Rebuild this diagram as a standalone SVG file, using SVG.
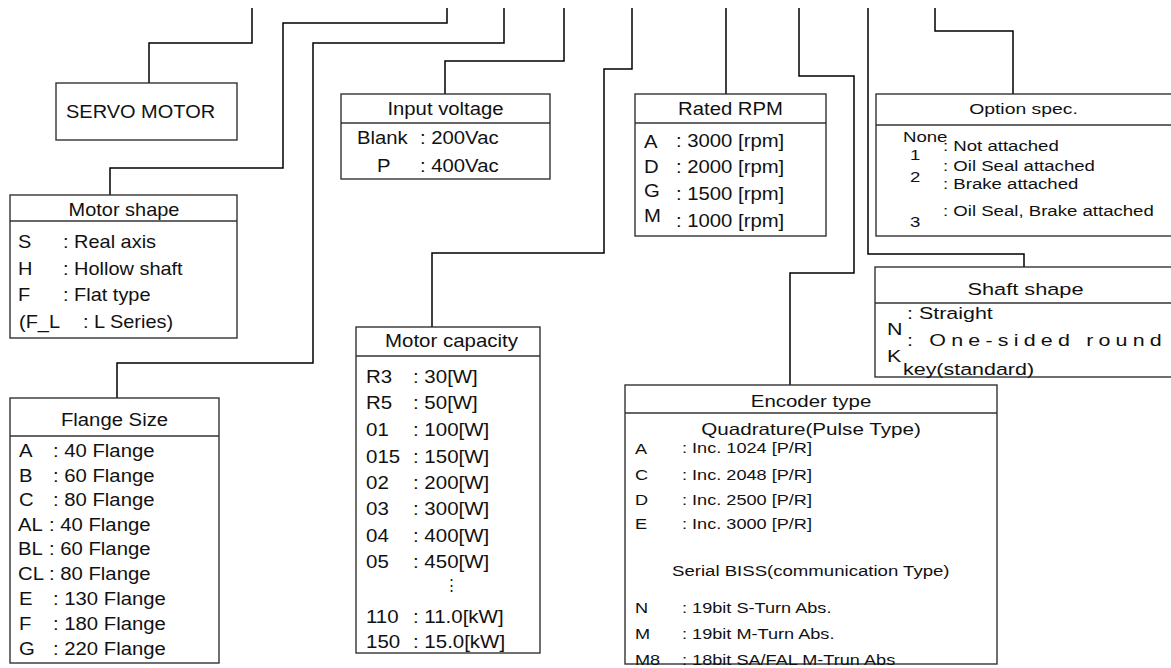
<svg xmlns="http://www.w3.org/2000/svg" width="1171" height="668" viewBox="0 0 1171 668">
<style>
.bx{fill:#fff;stroke:#333;stroke-width:1.4}
.hl{stroke:#333;stroke-width:1.4}
.cn{fill:none;stroke:#000;stroke-width:1.5}
text{font-family:"Liberation Sans",Arial,sans-serif;fill:#111}
.f18{font-size:18.5px}
.f17{font-size:17.5px}
.f16{font-size:16.5px}
.f15{font-size:15.5px}
.m{text-anchor:middle}
</style>
<rect width="1171" height="668" fill="#fff"/>
<g id="connectors">
<path class="cn" d="M252,8V43H149V83"/>
<path class="cn" d="M447,8V23H283V168H110V195"/>
<path class="cn" d="M504,8V43H313V363H117V398"/>
<path class="cn" d="M564,8V61H445V94"/>
<path class="cn" d="M632,8V69H604V253H432V327"/>
<path class="cn" d="M726,8V94"/>
<path class="cn" d="M799,8V76H854V273H790V385"/>
<path class="cn" d="M868,8V254H1024V267"/>
<path class="cn" d="M935,8V31H1013V94"/>
</g>
<g id="servo-motor">
<rect class="bx" x="56" y="83" width="181" height="57"/>
<text class="f18" transform="translate(66,118) scale(1.08,1)">SERVO MOTOR</text>
</g>
<g id="motor-shape">
<rect class="bx" x="10" y="195" width="227" height="143"/>
<line class="hl" x1="10" y1="221" x2="237" y2="221"/>
<text class="f17 m" transform="translate(124,216) scale(1.14,1)">Motor shape</text>
<text class="f17" transform="translate(18,248) scale(1.14,1)">S</text>
<text class="f17" transform="translate(63,248) scale(1.14,1)">: Real axis</text>
<text class="f17" transform="translate(18,274.5) scale(1.14,1)">H</text>
<text class="f17" transform="translate(63,274.5) scale(1.14,1)">: Hollow shaft</text>
<text class="f17" transform="translate(18,301) scale(1.14,1)">F</text>
<text class="f17" transform="translate(63,301) scale(1.14,1)">: Flat type</text>
<text class="f17" transform="translate(19,327.5) scale(1.14,1)">(F_L</text>
<text class="f17" transform="translate(83,327.5) scale(1.14,1)">: L Series)</text>
</g>
<g id="flange-size">
<rect class="bx" x="10" y="398" width="209" height="265"/>
<line class="hl" x1="10" y1="436" x2="219" y2="436"/>
<text class="f17 m" transform="translate(114.5,426) scale(1.16,1)">Flange Size</text>
<text class="f17" transform="translate(19,457) scale(1.16,1)">A</text>
<text class="f17" transform="translate(53,457) scale(1.16,1)">: 40 Flange</text>
<text class="f17" transform="translate(19,482) scale(1.16,1)">B</text>
<text class="f17" transform="translate(53,482) scale(1.16,1)">: 60 Flange</text>
<text class="f17" transform="translate(19,506) scale(1.16,1)">C</text>
<text class="f17" transform="translate(53,506) scale(1.16,1)">: 80 Flange</text>
<text class="f17" transform="translate(18,530.5) scale(1.16,1)">AL</text>
<text class="f17" transform="translate(49,530.5) scale(1.16,1)">: 40 Flange</text>
<text class="f17" transform="translate(18,555) scale(1.16,1)">BL</text>
<text class="f17" transform="translate(49,555) scale(1.16,1)">: 60 Flange</text>
<text class="f17" transform="translate(18,579.5) scale(1.16,1)">CL</text>
<text class="f17" transform="translate(49,579.5) scale(1.16,1)">: 80 Flange</text>
<text class="f17" transform="translate(19,605) scale(1.16,1)">E</text>
<text class="f17" transform="translate(53,605) scale(1.16,1)">: 130 Flange</text>
<text class="f17" transform="translate(19,630) scale(1.16,1)">F</text>
<text class="f17" transform="translate(53,630) scale(1.16,1)">: 180 Flange</text>
<text class="f17" transform="translate(19,655) scale(1.16,1)">G</text>
<text class="f17" transform="translate(53,655) scale(1.16,1)">: 220 Flange</text>
</g>
<g id="input-voltage">
<rect class="bx" x="341" y="94" width="209" height="85"/>
<line class="hl" x1="341" y1="123" x2="550" y2="123"/>
<text class="f17 m" transform="translate(445.5,115) scale(1.16,1)">Input voltage</text>
<text class="f17" transform="translate(357,144) scale(1.16,1)">Blank</text>
<text class="f17" transform="translate(420,144) scale(1.16,1)">: 200Vac</text>
<text class="f17" transform="translate(377,172) scale(1.16,1)">P</text>
<text class="f17" transform="translate(420,172) scale(1.16,1)">: 400Vac</text>
</g>
<g id="rated-rpm">
<rect class="bx" x="635" y="94" width="191" height="142"/>
<line class="hl" x1="635" y1="123" x2="826" y2="123"/>
<text class="f17 m" transform="translate(730.5,115) scale(1.16,1)">Rated RPM</text>
<text class="f17" transform="translate(644,148) scale(1.16,1)">A</text>
<text class="f17" transform="translate(676,147) scale(1.16,1)">: 3000 [rpm]</text>
<text class="f17" transform="translate(644,173) scale(1.16,1)">D</text>
<text class="f17" transform="translate(676,173) scale(1.16,1)">: 2000 [rpm]</text>
<text class="f17" transform="translate(644,197) scale(1.16,1)">G</text>
<text class="f17" transform="translate(676,200) scale(1.16,1)">: 1500 [rpm]</text>
<text class="f17" transform="translate(644,222) scale(1.16,1)">M</text>
<text class="f17" transform="translate(676,227) scale(1.16,1)">: 1000 [rpm]</text>
</g>
<g id="option-spec">
<rect class="bx" x="876" y="94" width="320" height="142"/>
<line class="hl" x1="876" y1="125" x2="1196" y2="125"/>
<text class="f15 m" transform="translate(1023.5,114) scale(1.25,1)">Option spec.</text>
<text class="f15" transform="translate(903,142) scale(1.2,1)">None</text>
<text class="f15" transform="translate(943,151) scale(1.2,1)">: Not attached</text>
<text class="f15" transform="translate(910,160) scale(1.2,1)">1</text>
<text class="f15" transform="translate(943,171) scale(1.2,1)">: Oil Seal attached</text>
<text class="f15" transform="translate(910,182) scale(1.2,1)">2</text>
<text class="f15" transform="translate(943,189) scale(1.2,1)">: Brake attached</text>
<text class="f15" transform="translate(943,216) scale(1.2,1)">: Oil Seal, Brake attached</text>
<text class="f15" transform="translate(910,227) scale(1.2,1)">3</text>
</g>
<g id="motor-capacity">
<rect class="bx" x="356" y="327" width="184" height="326"/>
<line class="hl" x1="356" y1="356" x2="540" y2="356"/>
<text class="f17 m" transform="translate(451.5,347) scale(1.17,1)">Motor capacity</text>
<text class="f17" transform="translate(366,383) scale(1.17,1)">R3</text>
<text class="f17" transform="translate(413,383) scale(1.17,1)">: 30[W]</text>
<text class="f17" transform="translate(366,409) scale(1.17,1)">R5</text>
<text class="f17" transform="translate(413,409) scale(1.17,1)">: 50[W]</text>
<text class="f17" transform="translate(366,436) scale(1.17,1)">01</text>
<text class="f17" transform="translate(413,436) scale(1.17,1)">: 100[W]</text>
<text class="f17" transform="translate(366,462.5) scale(1.17,1)">015</text>
<text class="f17" transform="translate(413,462.5) scale(1.17,1)">: 150[W]</text>
<text class="f17" transform="translate(366,489) scale(1.17,1)">02</text>
<text class="f17" transform="translate(413,489) scale(1.17,1)">: 200[W]</text>
<text class="f17" transform="translate(366,515) scale(1.17,1)">03</text>
<text class="f17" transform="translate(413,515) scale(1.17,1)">: 300[W]</text>
<text class="f17" transform="translate(366,542) scale(1.17,1)">04</text>
<text class="f17" transform="translate(413,542) scale(1.17,1)">: 400[W]</text>
<text class="f17" transform="translate(366,568) scale(1.17,1)">05</text>
<text class="f17" transform="translate(413,568) scale(1.17,1)">: 450[W]</text>
<text class="m" font-size="15" x="451" y="590">⋮</text>
<text class="f17" transform="translate(366,623) scale(1.17,1)">110</text>
<text class="f17" transform="translate(413,623) scale(1.17,1)">: 11.0[kW]</text>
<text class="f17" transform="translate(366,648) scale(1.17,1)">150</text>
<text class="f17" transform="translate(413,648) scale(1.17,1)">: 15.0[kW]</text>
</g>
<g id="encoder-type">
<rect class="bx" x="625" y="385" width="372" height="279"/>
<line class="hl" x1="625" y1="413" x2="997" y2="413"/>
<text class="f16 m" transform="translate(811,407) scale(1.24,1)">Encoder type</text>
<text class="f16 m" transform="translate(811,435) scale(1.25,1)">Quadrature(Pulse Type)</text>
<text class="f15" transform="translate(635,454) scale(1.17,1)">A</text>
<text class="f15" transform="translate(682,453) scale(1.17,1)">: Inc. 1024 [P/R]</text>
<text class="f15" transform="translate(635,479.5) scale(1.17,1)">C</text>
<text class="f15" transform="translate(682,479.5) scale(1.17,1)">: Inc. 2048 [P/R]</text>
<text class="f15" transform="translate(635,504.5) scale(1.17,1)">D</text>
<text class="f15" transform="translate(682,504.5) scale(1.17,1)">: Inc. 2500 [P/R]</text>
<text class="f15" transform="translate(635,529) scale(1.17,1)">E</text>
<text class="f15" transform="translate(682,529) scale(1.17,1)">: Inc. 3000 [P/R]</text>
<text class="f15" transform="translate(672,576) scale(1.2,1)">Serial BISS(communication Type)</text>
<text class="f15" transform="translate(635,613) scale(1.17,1)">N</text>
<text class="f15" transform="translate(682,613) scale(1.17,1)">: 19bit S-Turn Abs.</text>
<text class="f15" transform="translate(635,639) scale(1.17,1)">M</text>
<text class="f15" transform="translate(682,639) scale(1.17,1)">: 19bit M-Turn Abs.</text>
<text class="f15" transform="translate(635,665) scale(1.17,1)">M8</text>
<text class="f15" transform="translate(682,665) scale(1.17,1)">: 18bit SA/FAL M-Trun Abs</text>
</g>
<g id="shaft-shape">
<rect class="bx" x="875" y="267" width="320" height="110"/>
<line class="hl" x1="875" y1="303" x2="1195" y2="303"/>
<text class="f16 m" transform="translate(1025.5,295) scale(1.32,1)">Shaft shape</text>
<text class="f16" transform="translate(887,335) scale(1.3,1)">N</text>
<text class="f16" transform="translate(887,362) scale(1.3,1)">K</text>
<text class="f16" transform="translate(907,319) scale(1.3,1)">: Straight</text>
<text class="f16" transform="translate(907,346) scale(1.3,1)" textLength="196" lengthAdjust="spacing">: One-sided round</text>
<text class="f16" transform="translate(903,375) scale(1.3,1)">key(standard)</text>
</g>
</svg>
